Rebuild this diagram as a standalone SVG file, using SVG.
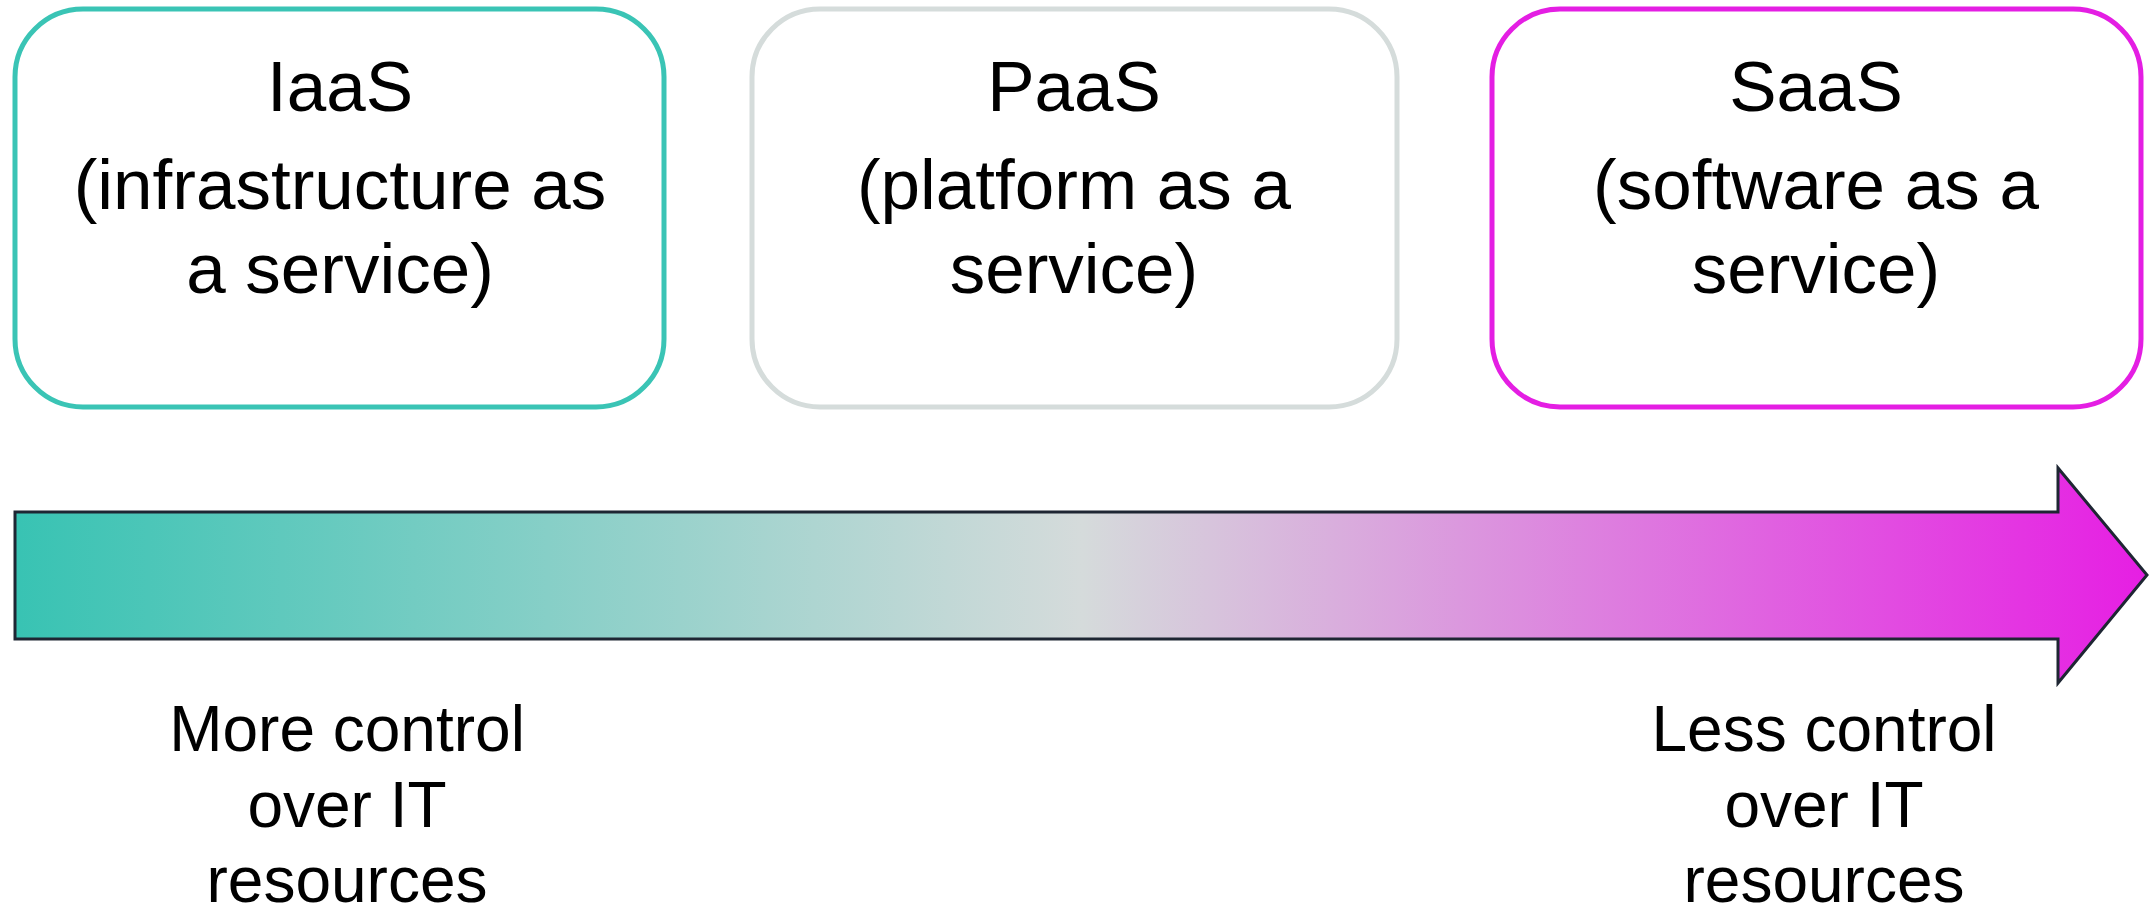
<svg xmlns="http://www.w3.org/2000/svg" width="2150" height="909" viewBox="0 0 2150 909">
  <style>
    .box { fill: #ffffff; stroke-width: 5; }
    .label { font-family: "Liberation Sans", Arial, sans-serif; font-size: 71px; fill: #000000; text-anchor: middle; }
    .note { font-family: "Liberation Sans", Arial, sans-serif; font-size: 64px; fill: #000000; text-anchor: middle; }
  </style>
  <defs>
    <linearGradient id="controlGradient" gradientUnits="userSpaceOnUse" x1="15" y1="0" x2="2148" y2="0">
      <stop offset="0" stop-color="#38c3b3"/>
      <stop offset="0.5" stop-color="#d5dbdb"/>
      <stop offset="1" stop-color="#e61ee3"/>
    </linearGradient>
  </defs>
  <rect width="2150" height="909" fill="#ffffff"/>

  <g id="iaas">
    <rect class="box" x="15" y="9" width="649" height="398" rx="68" ry="68" stroke="#3ac4b5"/>
    <text class="label" x="340" y="111">IaaS</text>
    <text class="label" x="340" y="209">(infrastructure as</text>
    <text class="label" x="340" y="293">a service)</text>
  </g>

  <g id="paas">
    <rect class="box" x="752" y="9" width="645" height="398" rx="68" ry="68" stroke="#d5dcdb"/>
    <text class="label" x="1074" y="111">PaaS</text>
    <text class="label" x="1074" y="209">(platform as a</text>
    <text class="label" x="1074" y="293">service)</text>
  </g>

  <g id="saas">
    <rect class="box" x="1492" y="9" width="649" height="398" rx="68" ry="68" stroke="#e41ee3"/>
    <text class="label" x="1816" y="111">SaaS</text>
    <text class="label" x="1816" y="209">(software as a</text>
    <text class="label" x="1816" y="293">service)</text>
  </g>

  <g id="connectors">
    <path d="M15,512 L2058,512 L2058,468 L2147,575 L2058,683 L2058,639 L15,639 Z" fill="url(#controlGradient)" stroke="#1e2633" stroke-width="3" stroke-linejoin="miter"/>
  </g>

  <g id="more-control">
    <text class="note" x="347" y="751">More control</text>
    <text class="note" x="347" y="827">over IT</text>
    <text class="note" x="347" y="902">resources</text>
  </g>

  <g id="less-control">
    <text class="note" x="1824" y="751">Less control</text>
    <text class="note" x="1824" y="827">over IT</text>
    <text class="note" x="1824" y="902">resources</text>
  </g>
</svg>
